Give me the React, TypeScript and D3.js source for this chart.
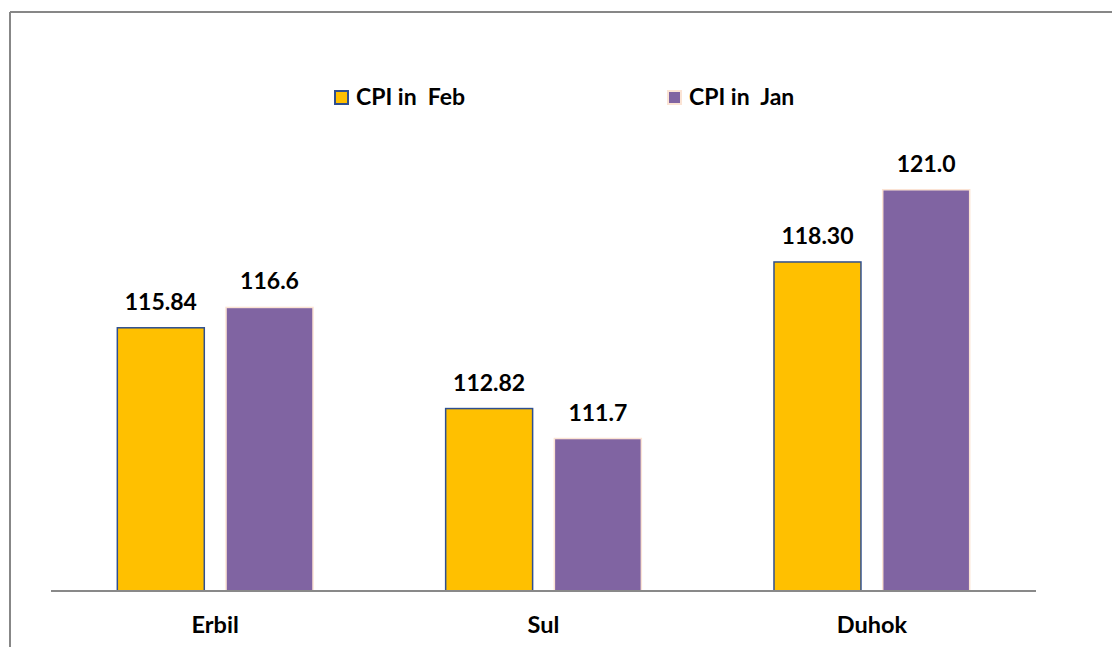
import * as d3 from "d3";

const categories = ["Erbil", "Sul", "Duhok"];
const seriesNames = ["CPI in  Feb", "CPI in  Jan"];
const febValues = [115.84, 112.82, 118.3];
const janValues = [116.6, 111.7, 121.0];
const febLabels = ["115.84", "112.82", "118.30"];
const janLabels = ["116.6", "111.7", "121.0"];

const fills = ["#FFC000", "#8064A2"];
const strokes = ["#2F4F8F", "#FBE3D4"];
const font = "Lato, 'Open Sans', sans-serif";

export default function App() {
  const W = 1112;
  const H = 647;
  const x0 = d3.scaleBand().domain(categories).range([51, 1036]);
  const x1 = d3
    .scaleBand()
    .domain(seriesNames)
    .range([0, x0.bandwidth()])
    .paddingInner(0.2)
    .paddingOuter(0.61);
  const y = d3.scaleLinear().domain([106, 122]).range([591, 163]);

  const series = [
    { name: seriesNames[0], values: febValues, labels: febLabels },
    { name: seriesNames[1], values: janValues, labels: janLabels },
  ];

  return (
    <svg width={W} height={H} style={{ position: "absolute", left: 0, top: 0 }}>
      <rect x={0} y={0} width={W} height={H} fill="#fff" />
      <line x1={10} x2={W} y1={12} y2={12} stroke="#878787" strokeWidth={2} />
      <line x1={10} x2={10} y1={12} y2={H} stroke="#878787" strokeWidth={2} />

      {series.map((s, si) => (
        <g key={s.name}>
          {categories.map((c, i) => {
            const bx = (x0(c) ?? 0) + (x1(s.name) ?? 0);
            const by = y(s.values[i]);
            return (
              <g key={c}>
                <rect
                  x={bx}
                  y={by}
                  width={x1.bandwidth()}
                  height={y(106) - by}
                  fill={fills[si]}
                  stroke={strokes[si]}
                  strokeWidth={1.5}
                />
                <text
                  x={bx + x1.bandwidth() / 2}
                  y={by - 18}
                  textAnchor="middle"
                  fontFamily={font}
                  fontWeight="bold"
                  fontSize={23}
                  fill="#000"
                >
                  {s.labels[i]}
                </text>
              </g>
            );
          })}
        </g>
      ))}

      <line x1={51} x2={1036} y1={591} y2={591} stroke="#898989" strokeWidth={2} />

      {categories.map((c) => (
        <text
          key={c}
          x={(x0(c) ?? 0) + x0.bandwidth() / 2}
          y={633}
          textAnchor="middle"
          fontFamily={font}
          fontWeight="bold"
          fontSize={23.5}
          fill="#000"
        >
          {c}
        </text>
      ))}

      {seriesNames.map((n, i) => {
        const lx = i === 0 ? 335 : 668;
        return (
          <g key={n}>
            <rect x={lx} y={91} width={13} height={13} fill={fills[i]} stroke={strokes[i]} strokeWidth={2} />
            <text x={lx + 21} y={105} fontFamily={font} fontWeight="bold" fontSize={23} fill="#000" style={{ whiteSpace: "pre" }}>
              {n}
            </text>
          </g>
        );
      })}
    </svg>
  );
}
